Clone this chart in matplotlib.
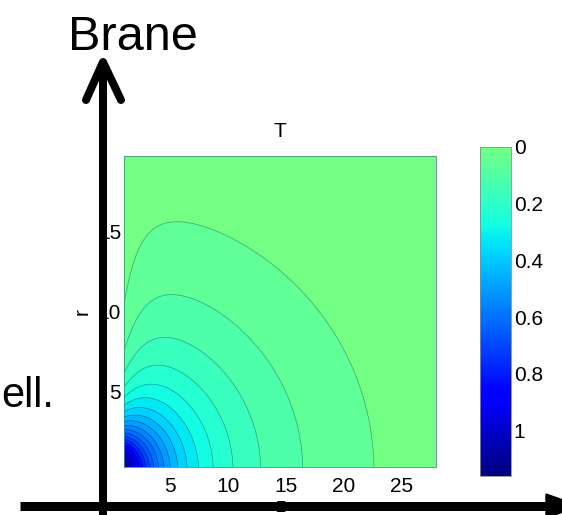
import numpy as np
import matplotlib
matplotlib.use("Agg")
import matplotlib.pyplot as plt
from matplotlib.colors import ListedColormap, Normalize
from matplotlib.cm import ScalarMappable

plt.rcParams["font.family"] = ["Liberation Sans", "DejaVu Sans"]

# extent of the solution grid
Z_RANGE = (1.0, 28.0)
R_RANGE = (0.25, 19.75)
N_Z, N_R = 271, 196

#   T = K (1/rho - 1/rho0) * damping near the left edge,
#   rho = distance from a source at z=SOURCE_Z (r squashed by R_SQUASH),
#   flattened inside a core of size CORE
SOURCE_Z = -1.25
R_SQUASH = 0.70
CORE = 2.7
K_AMP = 3.78
RHO_ZERO = 36.6
EDGE_DEPTH = 0.75
EDGE_RC2 = 22.0
EDGE_DECAY = 1.9
LEVEL_STEP = 0.055        # uniform contour spacing in T
T_TOP = 1.16              # bottom end of the colorbar

Z_TICKS = [5, 10, 15, 20, 25]
R_TICKS = [5, 10, 15]
CBAR_TICKS = [0, 0.2, 0.4, 0.6, 0.8, 1.0]
CBAR_LABELS = ["0", "0.2", "0.4", "0.6", "0.8", "1"]

z = np.linspace(Z_RANGE[0], Z_RANGE[1], N_Z)
r = np.linspace(R_RANGE[0], R_RANGE[1], N_R)
zz, rr = np.meshgrid(z, r)
d2 = (zz - SOURCE_Z) ** 2 + (rr / R_SQUASH) ** 2
rho = (d2 ** 2 + CORE ** 4) ** 0.25
damp = 1.0 - EDGE_DEPTH * rr ** 2 / (rr ** 2 + EDGE_RC2) * np.exp(-(zz - Z_RANGE[0]) / EDGE_DECAY)
T = K_AMP * (1.0 / rho - 1.0 / RHO_ZERO) * damp

levels = np.concatenate([[T.min()], np.arange(LEVEL_STEP, T.max(), LEVEL_STEP), [T.max()]])

# truncated jet: green at T=0 down to navy at the top value
cmap = ListedColormap(plt.get_cmap("jet")(np.linspace(0.49, 0.0, 256)))
norm = Normalize(vmin=0.0, vmax=T_TOP)
band_colors = cmap(norm(np.clip(levels[:-1], 0, None)))

W, H = 562, 515
fig = plt.figure(figsize=(W / 100, H / 100), dpi=100)

ax = fig.add_axes([124 / W, 1 - 467 / H, 312 / W, 311 / H])
ax.contourf(z, r, T, levels=levels, colors=band_colors, antialiased=False)
ax.contour(z, r, T, levels=levels[1:-1], colors="k", linewidths=0.5, alpha=0.35)
ax.set_xlim(*Z_RANGE)
ax.set_ylim(*R_RANGE)
ax.set_xticks(Z_TICKS)
ax.set_yticks(R_TICKS)
ax.tick_params(length=0, labelsize=15)
ax.tick_params(axis="x", pad=7)
ax.tick_params(axis="y", pad=2)
for s in ax.spines.values():
    s.set_linewidth(0.6)
    s.set_color("#4a8f7f")
ax.set_title("T", fontsize=15, pad=13.5)
ax.set_xlabel("z", fontsize=15)
ax.xaxis.set_label_coords(0.5, -0.095)
ax.set_ylabel("r", fontsize=15)
ax.yaxis.set_label_coords((92 - 124) / 312, 0.5)

cax = fig.add_axes([480 / W, 1 - 476 / H, 31 / W, 329 / H])
cb = fig.colorbar(ScalarMappable(norm=norm, cmap=cmap), cax=cax)
cax.invert_yaxis()
cb.set_ticks(CBAR_TICKS)
cb.set_ticklabels(CBAR_LABELS)
cax.tick_params(length=0, labelsize=15, pad=2)
cb.outline.set_linewidth(0.6)
cb.outline.set_edgecolor("#8a8a8a")

# slide overlay: big arrows and text, in pixel coordinates
ov = fig.add_axes([0, 0, 1, 1], zorder=10)
ov.set_xlim(0, W)
ov.set_ylim(H, 0)
ov.axis("off")
lw = 8 * 72 / 100
ov.plot([103, 103], [H + 10, 64], color="k", lw=lw, solid_capstyle="butt")
ov.plot([86, 103, 121], [100, 62, 100], color="k", lw=lw,
        solid_capstyle="round", solid_joinstyle="round")
ov.plot([20, 550], [506, 506], color="k", lw=9 * 72 / 100, solid_capstyle="butt")
ov.fill([546, 546, 580], [494, 518, 506], color="k", clip_on=False)
ov.text(133, 50, "Brane", fontsize=35, ha="center", va="baseline")
ov.text(1, 407, "ell.", fontsize=30, ha="left", va="baseline")

fig.savefig("out.png", dpi=100)
